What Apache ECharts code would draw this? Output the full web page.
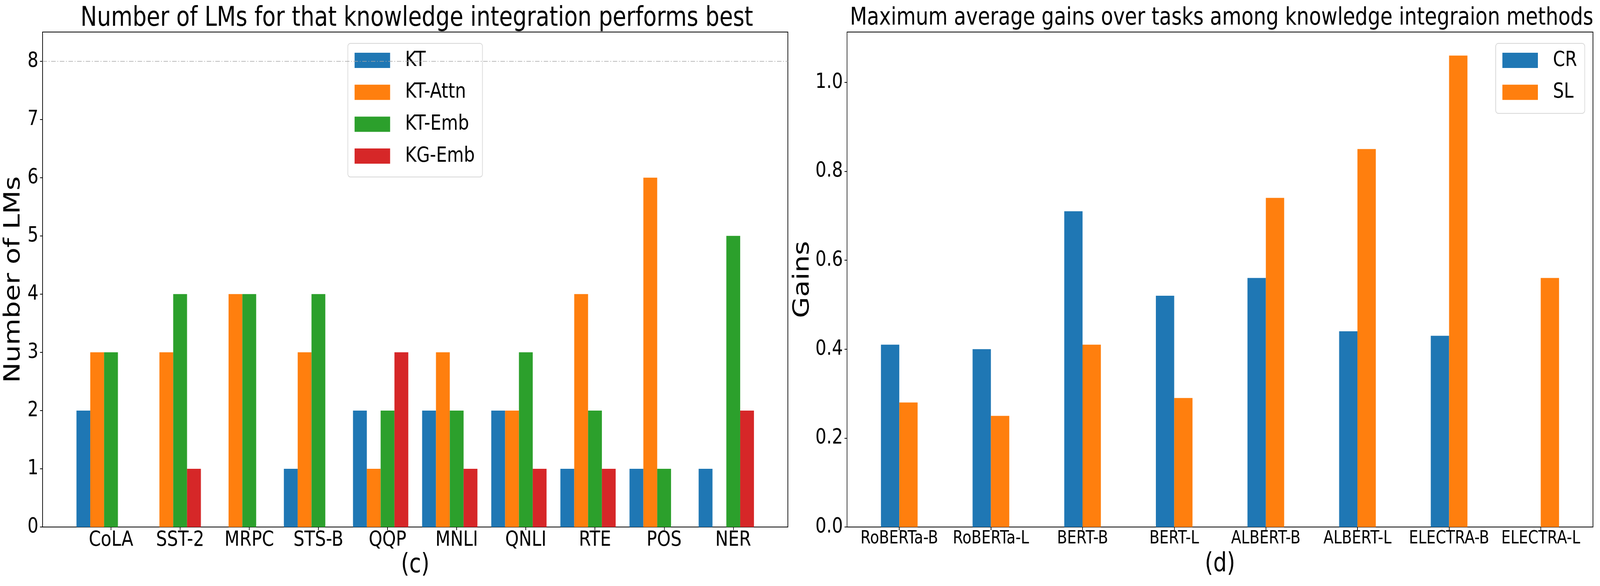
<!DOCTYPE html>
<html>
<head>
<meta charset="utf-8">
<script src="https://cdn.jsdelivr.net/npm/echarts@6/dist/echarts.min.js"></script>
<style>
html,body{margin:0;padding:0;background:#fff;overflow:hidden;}
#chart{width:5000px;height:1500px;transform-origin:0 0;}
</style>
</head>
<body>
<div id="chart"></div>
<script>
// ---- data: left panel (c) ----
const leftCats = ['CoLA','SST-2','MRPC','STS-B','QQP','MNLI','QNLI','RTE','POS','NER'];
const ktVals     = [2,0,0,1,2,2,2,1,1,1];
const ktAttnVals = [3,3,4,3,1,3,2,4,6,0];
const ktEmbVals  = [3,4,4,4,2,2,3,2,1,5];
const kgEmbVals  = [0,1,0,0,3,1,1,1,0,2];
const leftSeriesNames = ['KT','KT-Attn','KT-Emb','KG-Emb'];
const leftYTicks = [0,1,2,3,4,5,6,7,8];
const leftRefLine = 8;

// ---- data: right panel (d) ----
const rightCats = ['RoBERTa-B','RoBERTa-L','BERT-B','BERT-L','ALBERT-B','ALBERT-L','ELECTRA-B','ELECTRA-L'];
const crVals = [0.41,0.40,0.71,0.52,0.56,0.44,0.43,0];
const slVals = [0.28,0.25,0.41,0.29,0.74,0.85,1.06,0.56];
const rightSeriesNames = ['CR','SL'];
const rightYTicks = [0,0.2,0.4,0.6,0.8,1.0];

const colors = ['#1f77b4','#ff7f0e','#2ca02c','#d62728'];
const FONT = 'DejaVu Sans';

// layout (in 5000x1500 design space)
const L = {left:133, right:2462, top:82, bottom:1349};
const R = {left:2647, right:4978, top:82, bottom:1349};
const W = 5000, H = 1500;

// fit the 5000x1500 design into the actual viewport
const el = document.getElementById('chart');
const vw = window.innerWidth || W, vh = window.innerHeight || H;
const sx = Math.min(1, vw / W), sy = Math.min(1, vh / H);
if (sx < 1 || sy < 1) el.style.transform = 'scale(' + sx + ',' + sy + ')';

const chart = echarts.init(el, null, {renderer:'canvas', width:W, height:H});

function idxData(arr){ return arr.map((v,i)=>[i,v]); }
const leftIdx = leftCats.map((c,i)=>i);
const rightIdx = rightCats.map((c,i)=>i);

function xAxisCommon(gridIndex, cats, idx, min, max, name, nameGap, labelSize, labelMargin){
  return {
    gridIndex, type:'value', min, max,
    name, nameLocation:'middle', nameGap,
    nameTextStyle:{fontFamily:FONT, fontSize:67, color:'#000'},
    axisLine:{show:true, onZero:false, lineStyle:{color:'#000', width:2}},
    axisTick:{show:true, length:8, lineStyle:{color:'#000', width:2}, customValues: idx},
    axisLabel:{show:true, customValues: idx, fontFamily:FONT, fontSize:labelSize, color:'#000', margin:labelMargin,
      formatter:(v)=>cats[Math.round(v)] || ''},
    splitLine:{show:false}
  };
}
function yAxisCommon(gridIndex, min, max, ticks, name, nameGap, fmt){
  return {
    gridIndex, type:'value', min, max,
    name, nameLocation:'middle', nameGap,
    nameTextStyle:{fontFamily:FONT, fontSize:70, color:'#000'},
    axisLine:{show:true, onZero:false, lineStyle:{color:'#000', width:2}},
    axisTick:{show:true, length:8, lineStyle:{color:'#000', width:2}, customValues: ticks},
    axisLabel:{show:true, customValues: ticks, fontFamily:FONT, fontSize:54, color:'#000', margin:13, formatter:fmt},
    splitLine:{show:false}
  };
}

const leftValues = [ktVals, ktAttnVals, ktEmbVals, kgEmbVals];
const series = [];
leftValues.forEach((vals, k)=>{
  const s = {
    type:'bar', name:leftSeriesNames[k], xAxisIndex:0, yAxisIndex:0,
    data: idxData(vals), barWidth:'20%', barGap:'0%',
    itemStyle:{color:colors[k]}, emphasis:{disabled:true}
  };
  if(k===0){
    s.markLine = {silent:true, symbol:'none', label:{show:false},
      lineStyle:{color:'#a6a6a6', width:1.6, type:[14,5,3,5]},
      data:[{yAxis:leftRefLine}]};
  }
  series.push(s);
});
// empty placeholder slot so the group is laid out like the original (third bar centred on tick)
series.push({type:'bar', name:'_pad', xAxisIndex:0, yAxisIndex:0, data:[], barWidth:'20%', barGap:'0%'});

[crVals, slVals].forEach((vals,k)=>{
  series.push({
    type:'bar', name:rightSeriesNames[k], xAxisIndex:1, yAxisIndex:1,
    data: idxData(vals), barWidth:'20%', barGap:'0%',
    itemStyle:{color:colors[k]}, emphasis:{disabled:true}
  });
});

const legendCommon = {
  orient:'vertical', icon:'rect', itemWidth:111, itemHeight:39, itemGap:27.7,
  backgroundColor:'rgba(255,255,255,0.8)', borderColor:'#d6d6d6', borderWidth:2, borderRadius:8,
  textStyle:{fontFamily:FONT, fontSize:54, color:'#000', padding:[0,0,0,42]},
  selectedMode:false
};

const option = {
  animation:false,
  backgroundColor:'#fff',
  title:[
    {text:'Number of LMs for that knowledge integration performs best', left:(L.left+L.right)/2, top:9, textAlign:'center',
     textStyle:{fontFamily:FONT, fontSize:69, fontWeight:'normal', color:'#000'}},
    {text:'Maximum average gains over tasks among knowledge integraion methods', left:(R.left+R.right)/2, top:11, textAlign:'center',
     textStyle:{fontFamily:FONT, fontSize:62, fontWeight:'normal', color:'#000'}}
  ],
  legend:[
    Object.assign({}, legendCommon, {data:leftSeriesNames, left:1087, top:111, padding:[16.5,24,26.5,21]}),
    Object.assign({}, legendCommon, {data:rightSeriesNames, left:4674, top:111, padding:[16.5,24,27,21]})
  ],
  grid:[
    {left:L.left, top:L.top, width:L.right-L.left, height:L.bottom-L.top, show:true, borderColor:'#000', borderWidth:2, backgroundColor:'transparent', containLabel:false},
    {left:R.left, top:R.top, width:R.right-R.left, height:R.bottom-R.top, show:true, borderColor:'#000', borderWidth:2, backgroundColor:'transparent', containLabel:false}
  ],
  xAxis:[
    xAxisCommon(0, leftCats, leftIdx, -0.99, 9.79, '(c)', 65, 54, 6.5),
    xAxisCommon(1, rightCats, rightIdx, -0.57, 7.57, '(d)', 63, 46, 7.5)
  ],
  yAxis:[
    yAxisCommon(0, 0, 8.5, leftYTicks, 'Number of LMs', 55, (v)=>String(v)),
    yAxisCommon(1, 0, 1.113, rightYTicks, 'Gains', 102, (v)=>v.toFixed(1))
  ],
  series
};
chart.setOption(option);
</script>
</body>
</html>
